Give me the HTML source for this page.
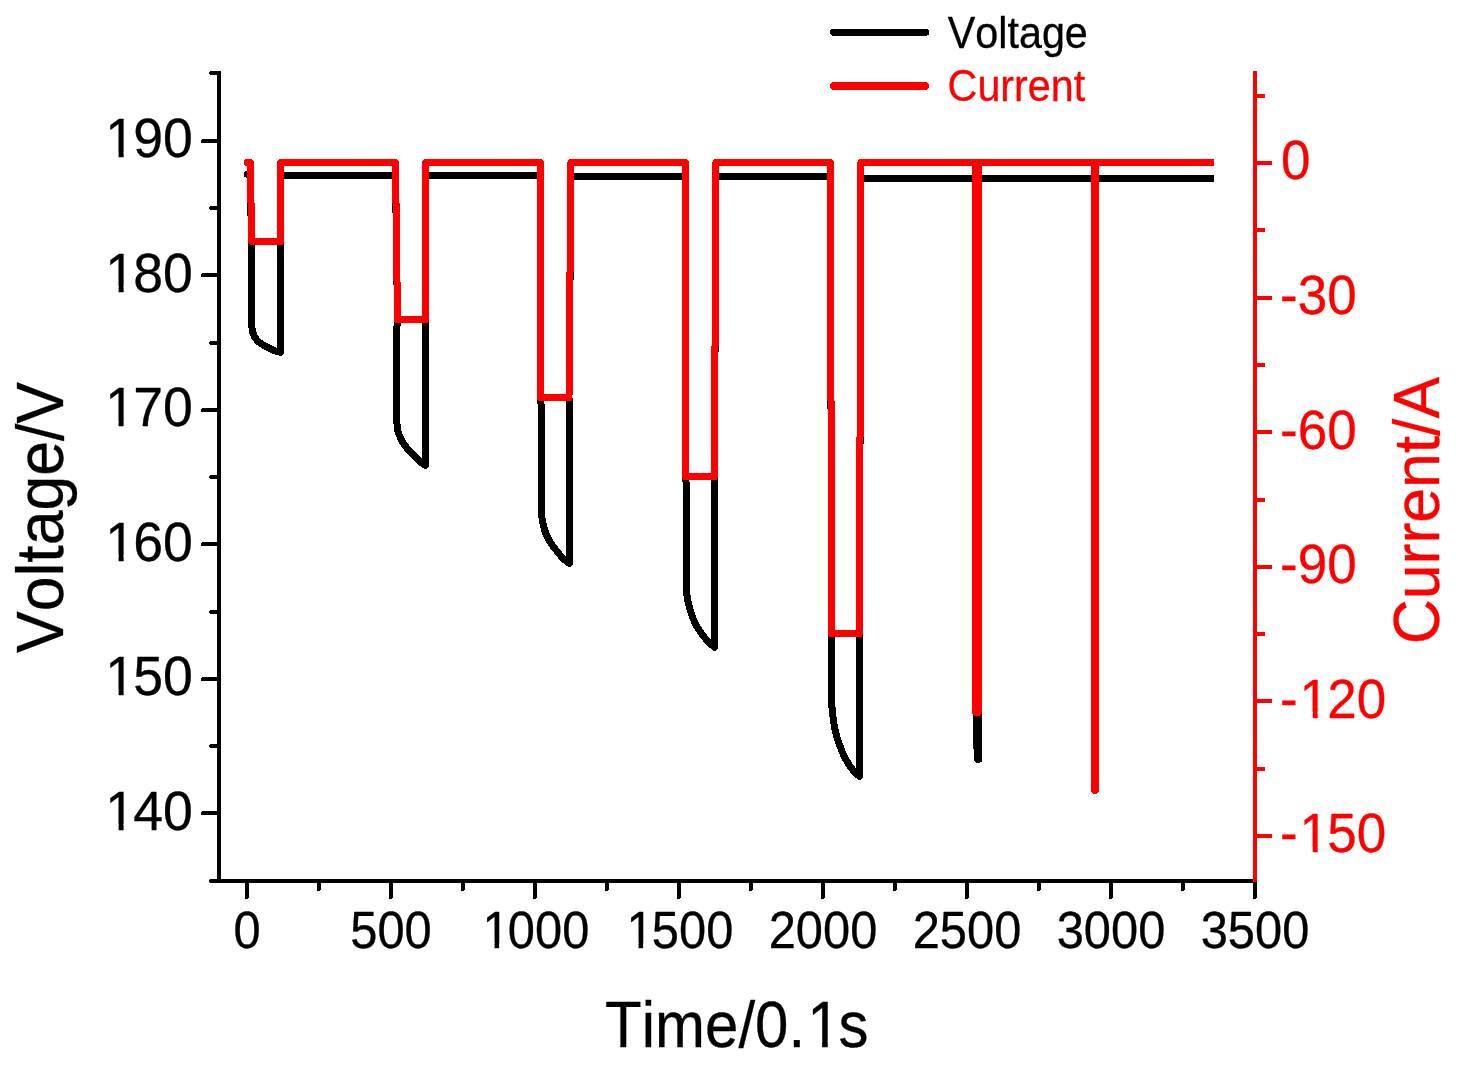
<!DOCTYPE html>
<html lang="en">
<head>
<meta charset="utf-8">
<title>Voltage and Current vs Time</title>
<style>
html,body{margin:0;padding:0;background:#ffffff;}
body{width:1474px;height:1080px;overflow:hidden;}
svg{display:block;}
svg text{font-family:"Liberation Sans", sans-serif;-webkit-font-smoothing:antialiased;font-kerning:none;font-variant-ligatures:none;}
svg{will-change:transform;}
</style>
</head>
<body>
<svg width="1474" height="1080" viewBox="0 0 1474 1080" shape-rendering="crispEdges">
<rect x="0" y="0" width="1474" height="1080" fill="#ffffff"/>
<polyline points="247.40,174.50 250.40,174.50 251.40,241.50 251.60,325.00 252.60,332.00 254.50,337.00 258.00,341.50 263.90,345.40 269.50,348.30 274.00,350.50 280.50,352.30 280.50,175.50 395.50,175.50 397.50,319.80 396.60,332.00 396.50,418.00 397.50,429.50 399.00,434.50 401.50,440.00 404.50,445.00 408.40,449.80 413.30,455.00 418.20,459.80 421.60,463.00 425.60,465.30 425.60,175.50 540.30,175.50 540.60,397.90 541.40,410.00 541.50,514.80 542.50,521.00 544.00,528.00 546.20,534.50 549.00,540.00 552.00,545.00 556.00,550.00 560.00,555.00 564.00,559.50 569.60,563.50 569.60,410.00 569.00,397.90 570.90,176.50 685.40,176.50 685.70,476.70 686.50,490.00 686.50,591.80 687.50,598.75 688.80,605.00 690.80,612.00 693.20,619.00 696.50,626.00 700.50,632.00 704.50,637.50 709.20,642.50 714.50,647.30 714.50,490.00 714.40,476.70 715.90,176.50 830.40,176.50 831.60,633.70 831.50,645.00 831.50,701.85 832.50,713.00 833.60,722.00 835.50,732.00 837.70,739.50 840.60,747.50 843.50,755.00 847.00,761.50 850.60,767.00 855.00,773.00 859.40,776.30 859.40,633.70 860.90,178.50 975.60,178.50 976.40,715.00 976.40,744.00 977.50,752.00 977.60,759.40 978.60,759.40 978.60,178.50 1094.80,178.50 1095.00,700.00 1095.20,178.50 1213.70,178.50" fill="none" stroke="#000000" stroke-width="7" stroke-linejoin="round" stroke-linecap="butt"/>
<circle cx="247.40" cy="174.40" r="3.5" fill="#000000"/>
<polyline points="247.50,162.50 250.50,162.50 251.50,241.50 280.50,241.50 280.50,162.50 395.50,162.50 397.50,319.80 425.70,319.80 425.70,162.50 540.30,162.50 540.60,397.90 569.00,397.90 570.90,162.50 685.40,162.50 685.70,476.70 714.40,476.70 715.90,162.50 830.40,162.50 831.60,633.70 859.40,633.70 860.90,162.50 975.40,162.50 975.50,712.30 978.50,712.30 978.60,162.50 1094.50,162.50 1094.70,790.25 1095.30,790.25 1095.50,162.50 1213.70,162.50" fill="none" stroke="#ff0000" stroke-width="7" stroke-linejoin="round" stroke-linecap="butt"/>
<circle cx="247.45" cy="162.50" r="3.5" fill="#ff0000"/>
<line x1="219.00" y1="71.00" x2="219.00" y2="883.00" stroke="#000000" stroke-width="4" stroke-linecap="butt"/>
<line x1="211.30" y1="881.00" x2="218.00" y2="881.00" stroke="#000000" stroke-width="4" stroke-linecap="round"/>
<line x1="203.00" y1="813.00" x2="218.00" y2="813.00" stroke="#000000" stroke-width="4" stroke-linecap="round"/>
<line x1="211.30" y1="746.00" x2="218.00" y2="746.00" stroke="#000000" stroke-width="4" stroke-linecap="round"/>
<line x1="203.00" y1="679.00" x2="218.00" y2="679.00" stroke="#000000" stroke-width="4" stroke-linecap="round"/>
<line x1="211.30" y1="612.00" x2="218.00" y2="612.00" stroke="#000000" stroke-width="4" stroke-linecap="round"/>
<line x1="203.00" y1="544.00" x2="218.00" y2="544.00" stroke="#000000" stroke-width="4" stroke-linecap="round"/>
<line x1="211.30" y1="477.00" x2="218.00" y2="477.00" stroke="#000000" stroke-width="4" stroke-linecap="round"/>
<line x1="203.00" y1="410.00" x2="218.00" y2="410.00" stroke="#000000" stroke-width="4" stroke-linecap="round"/>
<line x1="211.30" y1="343.00" x2="218.00" y2="343.00" stroke="#000000" stroke-width="4" stroke-linecap="round"/>
<line x1="203.00" y1="275.00" x2="218.00" y2="275.00" stroke="#000000" stroke-width="4" stroke-linecap="round"/>
<line x1="211.30" y1="208.00" x2="218.00" y2="208.00" stroke="#000000" stroke-width="4" stroke-linecap="round"/>
<line x1="203.00" y1="141.00" x2="218.00" y2="141.00" stroke="#000000" stroke-width="4" stroke-linecap="round"/>
<line x1="211.30" y1="73.00" x2="218.00" y2="73.00" stroke="#000000" stroke-width="4" stroke-linecap="round"/>
<line x1="211.00" y1="881.00" x2="1257.00" y2="881.00" stroke="#000000" stroke-width="4" stroke-linecap="butt"/>
<circle cx="211.0" cy="881.00" r="2.05" fill="#000000" shape-rendering="geometricPrecision"/>
<line x1="247.00" y1="882.00" x2="247.00" y2="897.00" stroke="#000000" stroke-width="4" stroke-linecap="round"/>
<line x1="319.00" y1="882.00" x2="319.00" y2="889.00" stroke="#000000" stroke-width="4" stroke-linecap="round"/>
<line x1="391.00" y1="882.00" x2="391.00" y2="897.00" stroke="#000000" stroke-width="4" stroke-linecap="round"/>
<line x1="463.00" y1="882.00" x2="463.00" y2="889.00" stroke="#000000" stroke-width="4" stroke-linecap="round"/>
<line x1="535.00" y1="882.00" x2="535.00" y2="897.00" stroke="#000000" stroke-width="4" stroke-linecap="round"/>
<line x1="607.00" y1="882.00" x2="607.00" y2="889.00" stroke="#000000" stroke-width="4" stroke-linecap="round"/>
<line x1="679.00" y1="882.00" x2="679.00" y2="897.00" stroke="#000000" stroke-width="4" stroke-linecap="round"/>
<line x1="751.00" y1="882.00" x2="751.00" y2="889.00" stroke="#000000" stroke-width="4" stroke-linecap="round"/>
<line x1="823.00" y1="882.00" x2="823.00" y2="897.00" stroke="#000000" stroke-width="4" stroke-linecap="round"/>
<line x1="895.00" y1="882.00" x2="895.00" y2="889.00" stroke="#000000" stroke-width="4" stroke-linecap="round"/>
<line x1="967.00" y1="882.00" x2="967.00" y2="897.00" stroke="#000000" stroke-width="4" stroke-linecap="round"/>
<line x1="1039.00" y1="882.00" x2="1039.00" y2="889.00" stroke="#000000" stroke-width="4" stroke-linecap="round"/>
<line x1="1111.00" y1="882.00" x2="1111.00" y2="897.00" stroke="#000000" stroke-width="4" stroke-linecap="round"/>
<line x1="1183.00" y1="882.00" x2="1183.00" y2="889.00" stroke="#000000" stroke-width="4" stroke-linecap="round"/>
<line x1="1255.00" y1="882.00" x2="1255.00" y2="897.00" stroke="#000000" stroke-width="4" stroke-linecap="round"/>
<line x1="1255.00" y1="70.80" x2="1255.00" y2="882.30" stroke="#ff0000" stroke-width="4" stroke-linecap="butt"/>
<line x1="1256.00" y1="96.00" x2="1263.20" y2="96.00" stroke="#ff0000" stroke-width="4" stroke-linecap="round"/>
<line x1="1256.00" y1="163.00" x2="1270.20" y2="163.00" stroke="#ff0000" stroke-width="4" stroke-linecap="round"/>
<line x1="1256.00" y1="230.00" x2="1263.20" y2="230.00" stroke="#ff0000" stroke-width="4" stroke-linecap="round"/>
<line x1="1256.00" y1="298.00" x2="1270.20" y2="298.00" stroke="#ff0000" stroke-width="4" stroke-linecap="round"/>
<line x1="1256.00" y1="365.00" x2="1263.20" y2="365.00" stroke="#ff0000" stroke-width="4" stroke-linecap="round"/>
<line x1="1256.00" y1="432.00" x2="1270.20" y2="432.00" stroke="#ff0000" stroke-width="4" stroke-linecap="round"/>
<line x1="1256.00" y1="500.00" x2="1263.20" y2="500.00" stroke="#ff0000" stroke-width="4" stroke-linecap="round"/>
<line x1="1256.00" y1="567.00" x2="1270.20" y2="567.00" stroke="#ff0000" stroke-width="4" stroke-linecap="round"/>
<line x1="1256.00" y1="634.00" x2="1263.20" y2="634.00" stroke="#ff0000" stroke-width="4" stroke-linecap="round"/>
<line x1="1256.00" y1="701.00" x2="1270.20" y2="701.00" stroke="#ff0000" stroke-width="4" stroke-linecap="round"/>
<line x1="1256.00" y1="769.00" x2="1263.20" y2="769.00" stroke="#ff0000" stroke-width="4" stroke-linecap="round"/>
<line x1="1256.00" y1="836.00" x2="1270.20" y2="836.00" stroke="#ff0000" stroke-width="4" stroke-linecap="round"/>
<text transform="translate(191.08,829.80) scale(1.0120,1.0350)" font-size="53px" fill="#000000" text-anchor="end" stroke="#000000" stroke-width="0.3" stroke-linejoin="round" dx="1.80 -1.80 0.00">140</text>
<text transform="translate(191.08,695.30) scale(1.0120,1.0350)" font-size="53px" fill="#000000" text-anchor="end" stroke="#000000" stroke-width="0.3" stroke-linejoin="round" dx="1.80 -1.80 0.00">150</text>
<text transform="translate(191.08,560.80) scale(1.0120,1.0350)" font-size="53px" fill="#000000" text-anchor="end" stroke="#000000" stroke-width="0.3" stroke-linejoin="round" dx="1.80 -1.80 0.00">160</text>
<text transform="translate(191.08,426.30) scale(1.0120,1.0350)" font-size="53px" fill="#000000" text-anchor="end" stroke="#000000" stroke-width="0.3" stroke-linejoin="round" dx="1.80 -1.80 0.00">170</text>
<text transform="translate(191.08,291.80) scale(1.0120,1.0350)" font-size="53px" fill="#000000" text-anchor="end" stroke="#000000" stroke-width="0.3" stroke-linejoin="round" dx="1.80 -1.80 0.00">180</text>
<text transform="translate(191.08,157.30) scale(1.0120,1.0350)" font-size="53px" fill="#000000" text-anchor="end" stroke="#000000" stroke-width="0.3" stroke-linejoin="round" dx="1.80 -1.80 0.00">190</text>
<text transform="translate(1281.00,179.30) scale(1.0000,1.0350)" font-size="53px" fill="#ff0000" text-anchor="start" stroke="#ff0000" stroke-width="0.3" stroke-linejoin="round">0</text>
<text transform="translate(1280.10,313.91) scale(1.0000,1.0350)" font-size="53px" fill="#ff0000" text-anchor="start" stroke="#ff0000" stroke-width="0.3" stroke-linejoin="round">-30</text>
<text transform="translate(1280.10,448.52) scale(1.0000,1.0350)" font-size="53px" fill="#ff0000" text-anchor="start" stroke="#ff0000" stroke-width="0.3" stroke-linejoin="round">-60</text>
<text transform="translate(1280.10,583.13) scale(1.0000,1.0350)" font-size="53px" fill="#ff0000" text-anchor="start" stroke="#ff0000" stroke-width="0.3" stroke-linejoin="round">-90</text>
<text transform="translate(1280.10,717.74) scale(1.0000,1.0350)" font-size="53px" fill="#ff0000" text-anchor="start" stroke="#ff0000" stroke-width="0.3" stroke-linejoin="round" dx="0.00 1.80 -1.80 0.00">-120</text>
<text transform="translate(1280.10,852.35) scale(1.0000,1.0350)" font-size="53px" fill="#ff0000" text-anchor="start" stroke="#ff0000" stroke-width="0.3" stroke-linejoin="round" dx="0.00 1.80 -1.80 0.00">-150</text>
<text transform="translate(247.00,948.20) scale(1.0000,1.0700)" font-size="48.8px" fill="#000000" text-anchor="middle" stroke="#000000" stroke-width="0.3" stroke-linejoin="round">0</text>
<text transform="translate(391.00,948.20) scale(1.0000,1.0700)" font-size="48.8px" fill="#000000" text-anchor="middle" stroke="#000000" stroke-width="0.3" stroke-linejoin="round">500</text>
<text transform="translate(534.17,948.20) scale(1.0000,1.0700)" font-size="48.8px" fill="#000000" text-anchor="middle" stroke="#000000" stroke-width="0.3" stroke-linejoin="round" dx="1.66 -1.66 0.00 0.00">1000</text>
<text transform="translate(678.17,948.20) scale(1.0000,1.0700)" font-size="48.8px" fill="#000000" text-anchor="middle" stroke="#000000" stroke-width="0.3" stroke-linejoin="round" dx="1.66 -1.66 0.00 0.00">1500</text>
<text transform="translate(823.00,948.20) scale(1.0000,1.0700)" font-size="48.8px" fill="#000000" text-anchor="middle" stroke="#000000" stroke-width="0.3" stroke-linejoin="round">2000</text>
<text transform="translate(967.00,948.20) scale(1.0000,1.0700)" font-size="48.8px" fill="#000000" text-anchor="middle" stroke="#000000" stroke-width="0.3" stroke-linejoin="round">2500</text>
<text transform="translate(1111.00,948.20) scale(1.0000,1.0700)" font-size="48.8px" fill="#000000" text-anchor="middle" stroke="#000000" stroke-width="0.3" stroke-linejoin="round">3000</text>
<text transform="translate(1255.00,948.20) scale(1.0000,1.0700)" font-size="48.8px" fill="#000000" text-anchor="middle" stroke="#000000" stroke-width="0.3" stroke-linejoin="round">3500</text>
<text transform="translate(736.80,1047.00) scale(1.0000,1.0890)" font-size="60px" fill="#000000" text-anchor="middle" stroke="#000000" stroke-width="0.3" stroke-linejoin="round" dx="0.00 0.00 0.00 0.00 0.00 0.00 0.00 2.04 -2.04">Time/0.1s</text>
<text transform="translate(63.20,517.50) rotate(-90) scale(1.0000,1.0560)" font-size="62.5px" fill="#000000" text-anchor="middle" stroke="#000000" stroke-width="0.3" stroke-linejoin="round">Voltage/V</text>
<text transform="translate(1439.00,510.60) rotate(-90) scale(1.0000,1.0440)" font-size="62.5px" fill="#ff0000" text-anchor="middle" stroke="#ff0000" stroke-width="0.3" stroke-linejoin="round">Current/A</text>
<line x1="833.70" y1="32.20" x2="925.50" y2="32.20" stroke="#000000" stroke-width="7.4" stroke-linecap="round"/>
<line x1="833.70" y1="86.00" x2="925.50" y2="86.00" stroke="#ff0000" stroke-width="7.4" stroke-linecap="round"/>
<text transform="translate(947.80,47.90) scale(1.0000,1.0750)" font-size="41.3px" fill="#000000" text-anchor="start" stroke="#000000" stroke-width="0.3" stroke-linejoin="round">Voltage</text>
<text transform="translate(947.60,101.00) scale(1.0000,1.0750)" font-size="41.3px" fill="#ff0000" text-anchor="start" stroke="#ff0000" stroke-width="0.3" stroke-linejoin="round">Current</text>
<rect x="108.38" y="824.00" width="10.19" height="7.00" fill="#ffffff" shape-rendering="geometricPrecision"/>
<rect x="123.61" y="824.00" width="9.93" height="7.00" fill="#ffffff" shape-rendering="geometricPrecision"/>
<rect x="108.38" y="690.00" width="10.19" height="7.00" fill="#ffffff" shape-rendering="geometricPrecision"/>
<rect x="123.61" y="690.00" width="9.93" height="7.00" fill="#ffffff" shape-rendering="geometricPrecision"/>
<rect x="108.38" y="555.00" width="10.19" height="7.00" fill="#ffffff" shape-rendering="geometricPrecision"/>
<rect x="123.61" y="555.00" width="9.93" height="7.00" fill="#ffffff" shape-rendering="geometricPrecision"/>
<rect x="108.38" y="421.00" width="10.19" height="7.00" fill="#ffffff" shape-rendering="geometricPrecision"/>
<rect x="123.61" y="421.00" width="9.93" height="7.00" fill="#ffffff" shape-rendering="geometricPrecision"/>
<rect x="108.38" y="286.00" width="10.19" height="7.00" fill="#ffffff" shape-rendering="geometricPrecision"/>
<rect x="123.61" y="286.00" width="9.93" height="7.00" fill="#ffffff" shape-rendering="geometricPrecision"/>
<rect x="108.38" y="152.00" width="10.19" height="7.00" fill="#ffffff" shape-rendering="geometricPrecision"/>
<rect x="123.61" y="152.00" width="9.93" height="7.00" fill="#ffffff" shape-rendering="geometricPrecision"/>
<rect x="1302.66" y="712.00" width="10.07" height="7.00" fill="#ffffff" shape-rendering="geometricPrecision"/>
<rect x="1317.71" y="712.00" width="9.81" height="7.00" fill="#ffffff" shape-rendering="geometricPrecision"/>
<rect x="1302.66" y="847.00" width="10.07" height="7.00" fill="#ffffff" shape-rendering="geometricPrecision"/>
<rect x="1317.71" y="847.00" width="9.81" height="7.00" fill="#ffffff" shape-rendering="geometricPrecision"/>
<rect x="485.24" y="943.00" width="9.26" height="7.00" fill="#ffffff" shape-rendering="geometricPrecision"/>
<rect x="499.11" y="943.00" width="9.03" height="7.00" fill="#ffffff" shape-rendering="geometricPrecision"/>
<rect x="629.24" y="943.00" width="9.26" height="7.00" fill="#ffffff" shape-rendering="geometricPrecision"/>
<rect x="643.11" y="943.00" width="9.03" height="7.00" fill="#ffffff" shape-rendering="geometricPrecision"/>
<rect x="810.69" y="1041.00" width="11.42" height="7.00" fill="#ffffff" shape-rendering="geometricPrecision"/>
<rect x="827.72" y="1041.00" width="11.10" height="7.00" fill="#ffffff" shape-rendering="geometricPrecision"/>
</svg>
</body>
</html>
